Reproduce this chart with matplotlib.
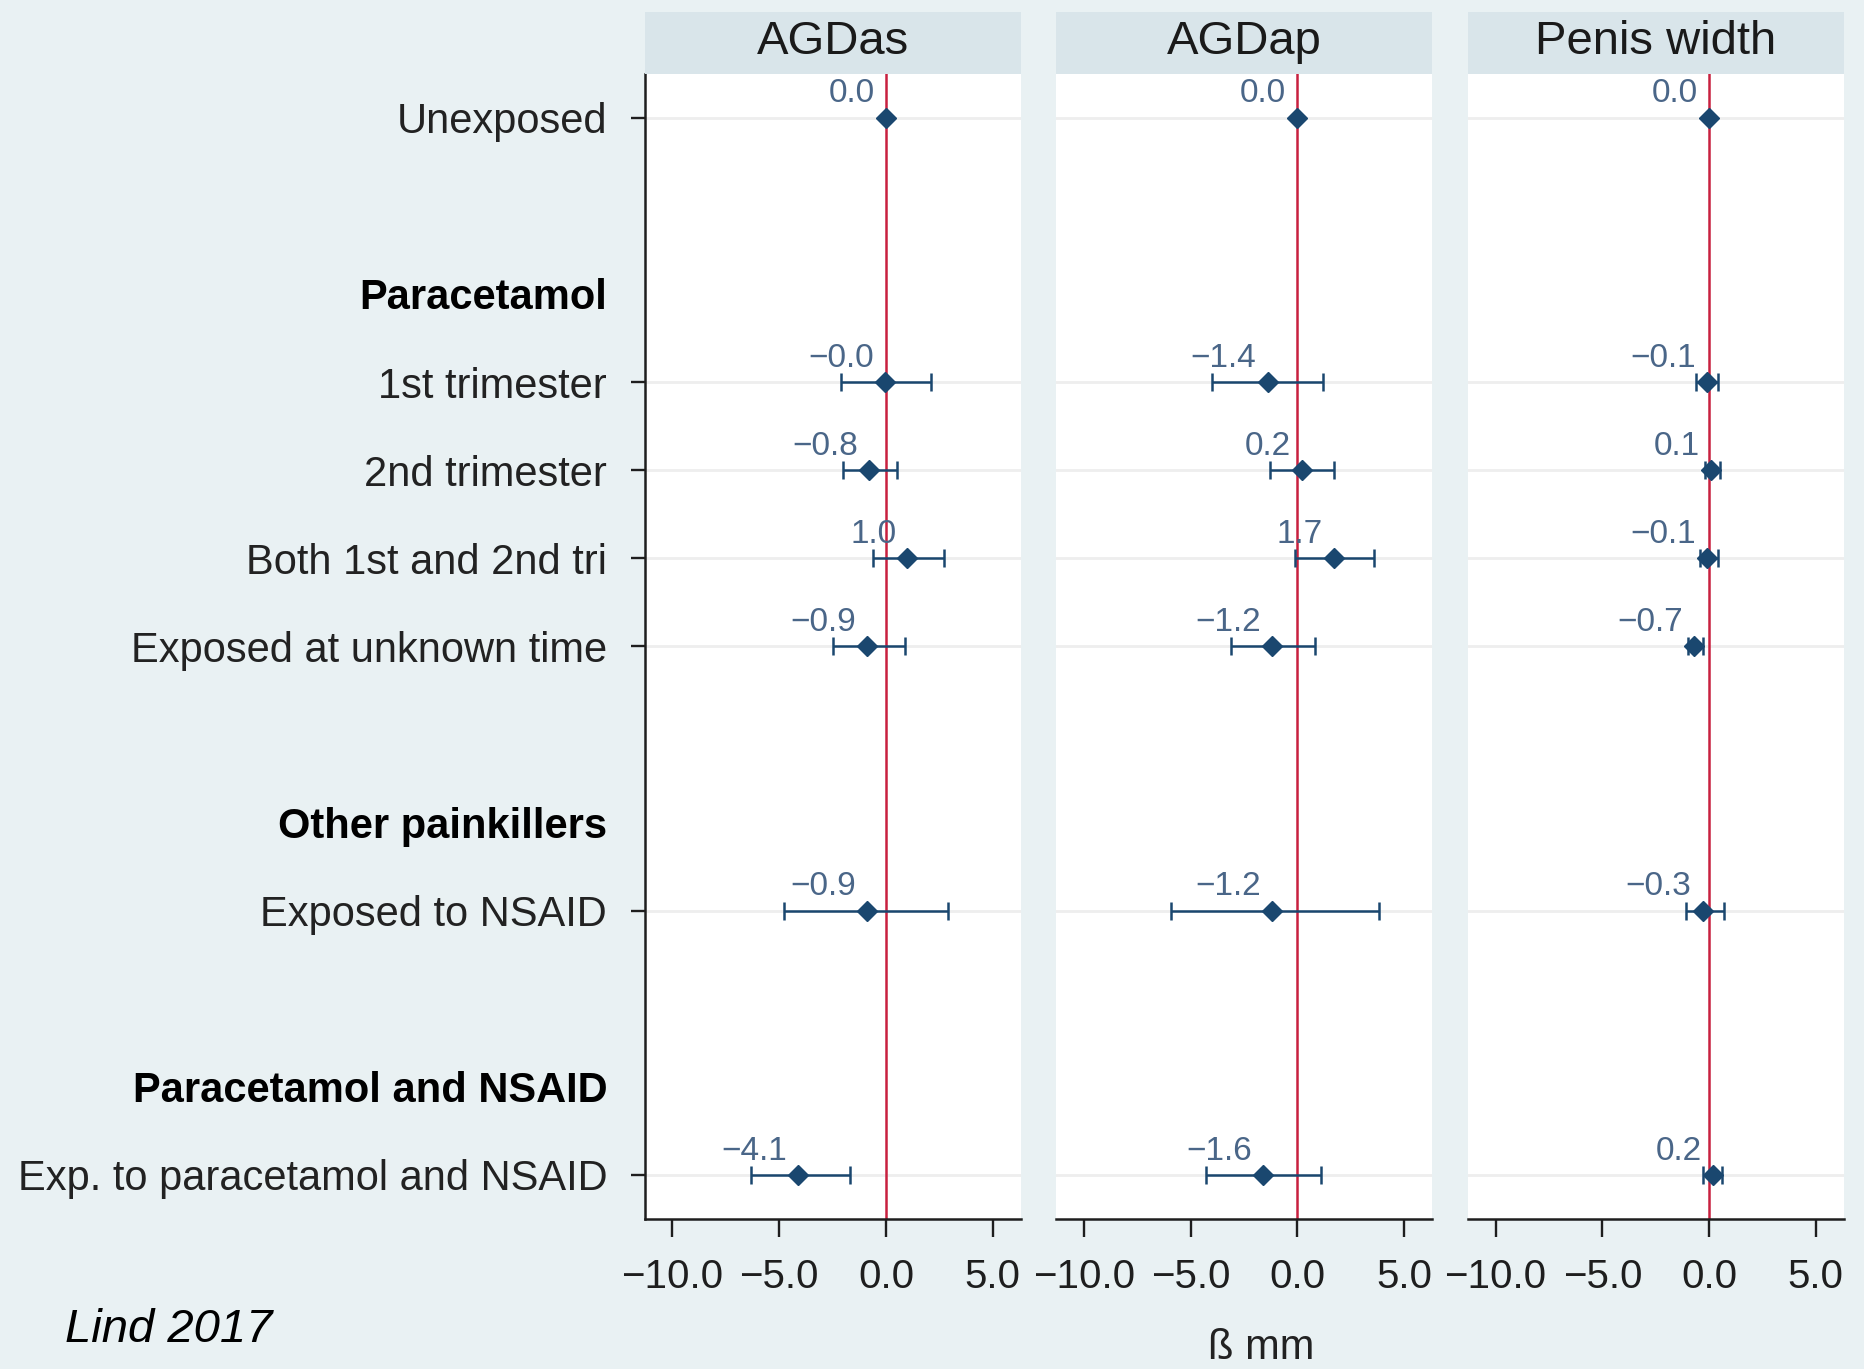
import numpy as np
import matplotlib
matplotlib.use('Agg')
import matplotlib.pyplot as plt
from matplotlib.ticker import FuncFormatter

plt.rcParams['font.family'] = ['Liberation Sans', 'DejaVu Sans']

# row layout, '' = blank spacer, '#' prefix = bold group header
rows = ['Unexposed', '', '#Paracetamol', '1st trimester', '2nd trimester',
        'Both 1st and 2nd tri', 'Exposed at unknown time', '',
        '#Other painkillers', 'Exposed to NSAID', '',
        '#Paracetamol and NSAID', 'Exp. to paracetamol and NSAID']

categories = ['Unexposed', '1st trimester', '2nd trimester', 'Both 1st and 2nd tri',
              'Exposed at unknown time', 'Exposed to NSAID', 'Exp. to paracetamol and NSAID']

outcomes = ['AGDas', 'AGDap', 'Penis width']

agdas_est = [0.0, -0.04, -0.8, 1.0, -0.9, -0.9, -4.1]
agdas_lo = [np.nan, -2.1, -2.0, -0.6, -2.5, -4.8, -6.3]
agdas_hi = [np.nan, 2.1, 0.5, 2.7, 0.9, 2.9, -1.7]

agdap_est = [0.0, -1.4, 0.2, 1.7, -1.2, -1.2, -1.6]
agdap_lo = [np.nan, -4.0, -1.3, -0.1, -3.1, -5.9, -4.3]
agdap_hi = [np.nan, 1.2, 1.7, 3.6, 0.8, 3.8, 1.1]

penis_est = [0.0, -0.1, 0.1, -0.1, -0.7, -0.3, 0.2]
penis_lo = [np.nan, -0.6, -0.2, -0.4, -1.0, -1.1, -0.3]
penis_hi = [np.nan, 0.4, 0.5, 0.4, -0.3, 0.7, 0.6]

x_ticks = [-10, -5, 0, 5]

est_all = [agdas_est, agdap_est, penis_est]
lo_all = [agdas_lo, agdap_lo, penis_lo]
hi_all = [agdas_hi, agdap_hi, penis_hi]

bg = '#e9f1f3'
strip = '#d9e5ea'
navy = '#1a476f'
lab_col = '#4a6688'
red = '#c8203f'
dark = '#1e1e1e'

fig = plt.figure(figsize=(18.65, 13.69), dpi=100, facecolor=bg)

def fmt(v):
    return f'{v:.1f}'.replace('-', '\u2212')

cat_y = [rows.index(c) for c in categories]
label_rows = [i for i, r in enumerate(rows) if r]
lefts = [0.3457, 0.5663, 0.7870]
W = 0.2015
B, H = 0.1096, 0.8366

for k, name in enumerate(outcomes):
    ax = fig.add_axes([lefts[k], B, W, H])
    ax.set_facecolor('white')
    est = np.array(est_all[k])
    lo = np.array(lo_all[k])
    hi = np.array(hi_all[k])
    y = np.array(cat_y)

    for yy in y:
        ax.axhline(yy, color='#eeeeee', lw=2, zorder=0)
    ax.axvline(0, color=red, lw=1.8, zorder=2)

    ok = ~np.isnan(lo)
    ax.errorbar(est[ok], y[ok], xerr=[est[ok] - lo[ok], hi[ok] - est[ok]],
                fmt='none', ecolor=navy, elinewidth=1.8, capsize=6.5,
                capthick=1.8, zorder=3)
    ax.plot(est, y, 'D', color=navy, markersize=10, zorder=4)
    for xv, yv in zip(est, y):
        ax.annotate(fmt(xv), (xv, yv), xytext=(-8, 11), textcoords='offset points',
                    ha='right', va='baseline', fontsize=24, color=lab_col, zorder=5)

    ax.set_xlim(-11.3, 6.3)
    ax.set_ylim(12.5, -0.5)
    ax.set_xticks(x_ticks)
    ax.xaxis.set_major_formatter(FuncFormatter(lambda v, p: fmt(v)))
    ax.tick_params(axis='x', length=13, width=1.7, color=dark, labelsize=29,
                   labelcolor=dark, pad=15)
    for s in ['top', 'right']:
        ax.spines[s].set_visible(False)
    ax.spines['bottom'].set_color(dark)
    ax.spines['bottom'].set_linewidth(1.8)

    if k == 0:
        ax.spines['left'].set_color(dark)
        ax.spines['left'].set_linewidth(1.8)
        ax.set_yticks(label_rows)
        ax.set_yticklabels([rows[i].lstrip('#') for i in label_rows])
        ax.tick_params(axis='y', length=10, width=1.7, color=dark, labelsize=30,
                       labelcolor='#222222', pad=17)
        for i, t, tk in zip(label_rows, ax.get_yticklabels(), ax.yaxis.get_major_ticks()):
            if rows[i].startswith('#'):
                t.set_fontweight('bold')
                t.set_color('black')
                tk.tick1line.set_visible(False)
    else:
        ax.spines['left'].set_visible(False)
        ax.set_yticks([])

    hax = fig.add_axes([lefts[k], 0.9462, W, 0.0451])
    hax.set_facecolor(strip)
    hax.set_xticks([])
    hax.set_yticks([])
    for s in hax.spines.values():
        s.set_visible(False)
    hax.text(0.5, 0.52, name, ha='center', va='center', fontsize=34,
             color='#1a1a1a', transform=hax.transAxes)

fig.text(1261 / 1865, 1 - 1348 / 1369, '\u00df mm', ha='center', va='center',
         fontsize=30, color='#222222')
fig.text(65 / 1865, 1 - 1330 / 1369, 'Lind 2017', ha='left', va='center',
         fontsize=34, style='italic', color='black')

fig.savefig('out.png', dpi=100, facecolor=bg)
